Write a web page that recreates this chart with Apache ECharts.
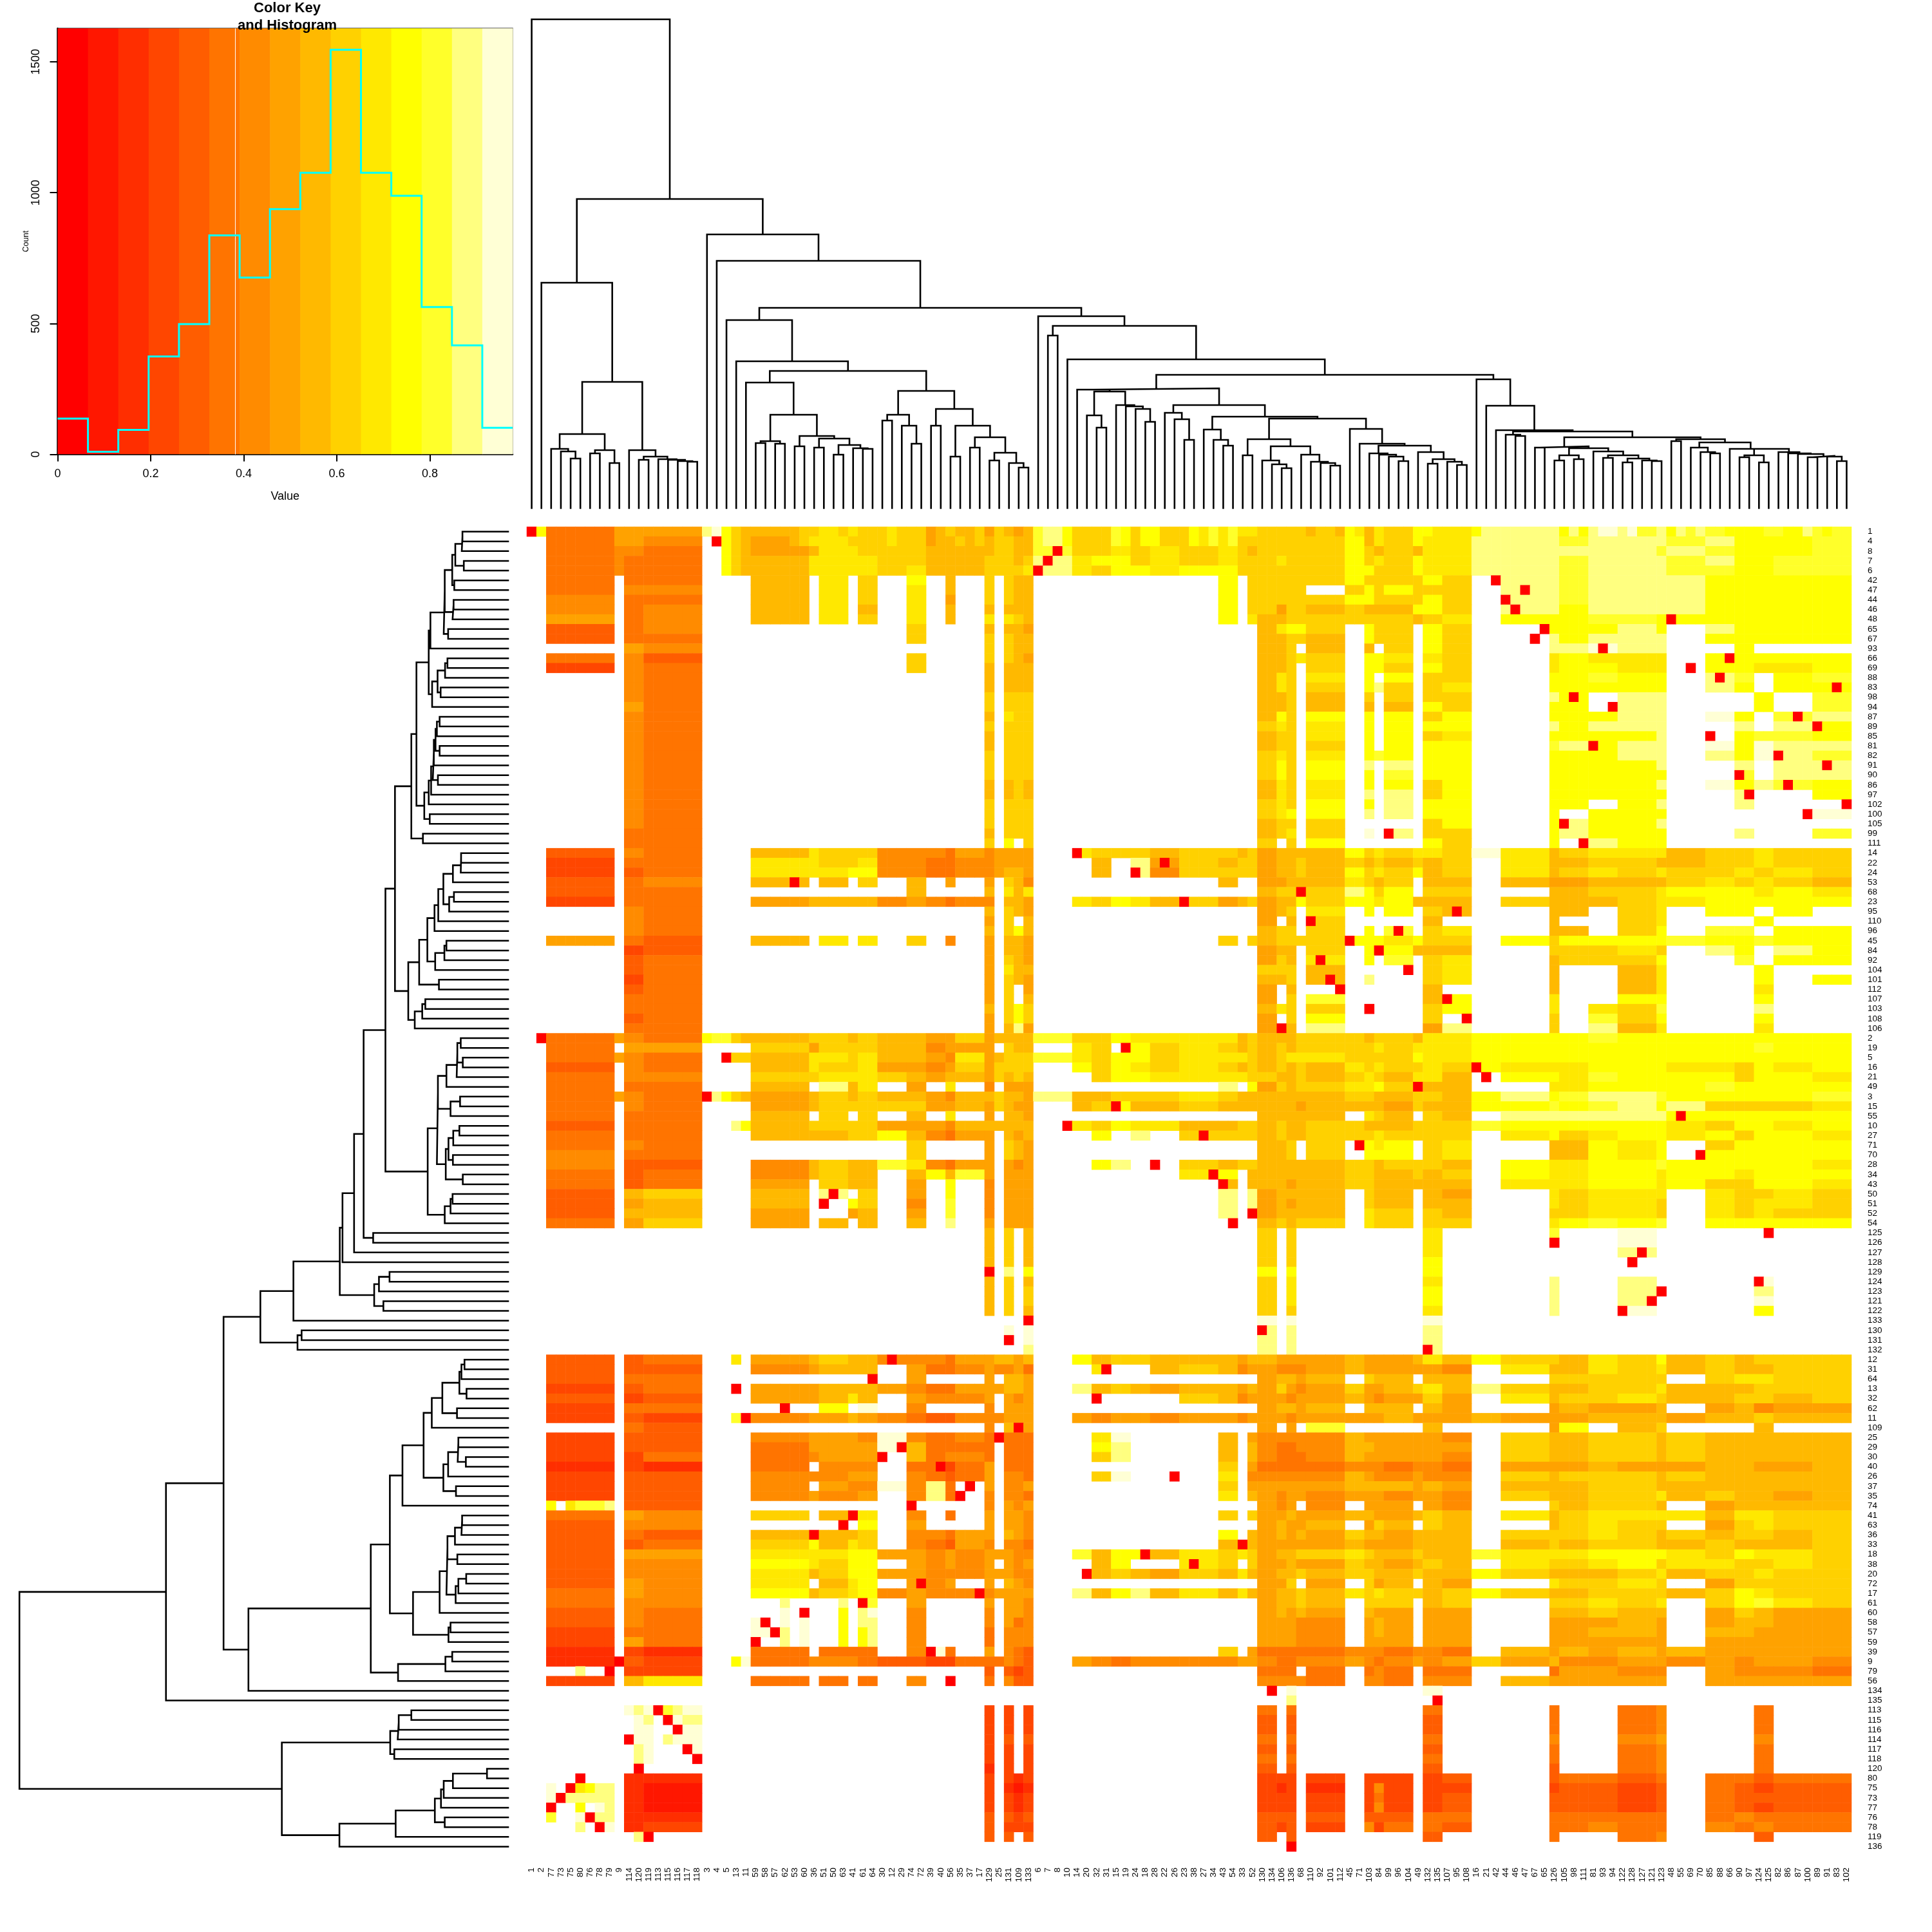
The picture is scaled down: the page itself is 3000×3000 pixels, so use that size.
<!DOCTYPE html>
<html><head><meta charset="utf-8">
<script src="https://cdn.jsdelivr.net/npm/echarts@6/dist/echarts.min.js"></script>
<style>html,body{margin:0;padding:0;background:#fff}#c{width:3000px;height:3000px}</style></head>
<body><div id="c"></div>
<script>
const colLabels=[1,2,77,73,75,80,76,78,79,9,114,120,119,113,115,116,117,118,3,4,5,13,11,59,58,57,62,53,60,36,51,50,63,41,61,64,30,12,29,74,72,39,40,56,35,37,17,129,25,131,109,133,6,7,8,10,14,20,32,31,15,19,24,18,28,22,26,23,38,27,34,43,54,33,52,130,134,106,136,68,110,92,101,112,45,71,103,84,99,96,104,49,132,135,107,95,108,16,21,42,44,46,47,67,65,126,105,98,111,81,93,94,122,128,127,121,123,48,55,69,70,85,88,66,90,97,124,125,82,86,87,100,89,91,83,102];
const rowLabels=[1,4,8,7,6,42,47,44,46,48,65,67,93,66,69,88,83,98,94,87,89,85,81,82,91,90,86,97,102,100,105,99,111,14,22,24,53,68,23,95,110,96,45,84,92,104,101,112,107,103,108,106,2,19,5,16,21,49,3,15,55,10,27,71,70,28,34,43,50,51,52,54,125,126,127,128,129,124,123,121,122,133,130,131,132,12,31,64,13,32,62,11,109,25,29,30,40,26,37,35,74,41,63,36,33,18,38,20,72,17,61,60,58,57,59,39,9,79,56,134,135,113,115,116,114,117,118,120,80,75,73,77,76,78,119,136];
const heatColors=['#FF0000','#FF1700','#FF2E00','#FF4600','#FF5D00','#FF7400','#FF8B00','#FFA200','#FFB900','#FFD100','#FFE800','#FFFF00','#FFFF2A','#FFFF80','#FFFFD5'];
const histCounts=[137,10,94,374,498,837,676,937,1076,1546,1076,988,563,417,102];
const keyMax=0.978, keyVline=0.382;
// top dendrogram: [height,left,right], 0 = leaf
const tA=[350,0,[196,[115,[92,0,[88,0,[77,0,0]]],[90,[85,0,0],[70,0,0]]],[90,0,[80,[75,0,0],[76,0,[75,0,[73,0,[72,0,0]]]]]]]];
const tB1=[195,0,[145,[104,[101,0,0],[100,0,0]],[112,[96,0,0],[108,[94,0,0],[98,[83,0,0],[93,0,[92,0,0]]]]]]];
const tB2=[182,[145,[136,0,0],[128,0,[100,0,0]]],[154,[128,0,0],[128,[80,0,0],[110,[94,0,0],[86,[74,0,0],[70,0,[63,0,0]]]]]]];
const tC1=[184,0,[181,[144,0,[125,0,0]],[160,0,[158,0,[154,0,[134,0,0]]]]]];
const tC2=[148,0,[138,0,[106,0,0]]];
const tC3=[122,0,[106,0,[97,0,0]]];
const tC4=[107,[82,0,0],[96,[74,0,[68,0,[62,0,0]]],[83,0,[72,0,[70,0,[66,0,0]]]]]];
const tC5=[123,0,[100,0,[97,[85,0,[83,0,[80,0,[73,0,0]]]],[87,0,[76,[69,0,0],[72,0,[67,0,0]]]]]]];
const tC=[186,tC1,[160,tC2,[142,tC3,[139,tC4,tC5]]]];
const tD1=[114,0,[112,0,0]];
const tD2=[96,[94,0,0],[93,[82,[74,0,0],[76,0,0]],[88,0,[82,[78,0,0],[77,[71,0,0],[74,0,[73,0,0]]]]]]];
const tD3tail=[87,0,[85,0,[84,0,[81,[79,0,0],[80,0,[73,0,0]]]]]];
const tD3=[107,[104,0,0],[102,[94,0,[87,0,[85,0,0]]],[92,0,[92,[82,[79,0,0],[71,0,0]],tD3tail]]]];
const tD=[200,0,[159,0,[121,0,[119,tD1,[110,tD2,tD3]]]]];
const tE=[298,0,[283,[268,0,0],[231,0,[207,tC,tD]]]];
const topTree=[759,0,[480,tA,[425,0,[384,0,[311,[292,0,[228,0,[213,tB1,tB2]]],tE]]]]];
// left dendrogram
const n1=[228,[189,[186,[164,[155,[136,[134,0,0],0],[130,0,0]],[158,0,0]],[163,[160,0,0],0]],[176,0,0]],0];
const n2=[223,[207,[185,[178,0,0],0],[198,0,0]],0];
const n4=[233,[226,[221,[218,[213,[209,[201,0,0],0],[201,0,0]],0],[206,0,0]],0],0];
const n7=[284,[269,[233,n1,n2],[246,n4,[230,0,0]]],[250,0,0]];
const n8=[216,[205,[190,[162,[139,[138,0,0],0],0],[173,[159,0,0],0]],0],0];
const n9=[214,[187,[181,0,0],0],0];
const n13=[293,[261,[237,n8,n9],[203,0,0]],[274,[252,[243,0,0],0],0]];
const n15=[181,[151,[149,[139,0,0],[133,0,0]],0],0];
const n16=[169,[141,0,0],0];
const n18=[175,[161,[143,0,0],0],[162,0,0]];
const n22=[236,[209,[206,n15,n16],[183,n18,[133,0,0]]],[186,[169,[163,0,0],0],0]];
const n23=[360,[332,n7,n13],n22];
const nD=[494,[486,[452,[424,n23,[396,0,0]],0],0],[393,[379,[348,0,0],0],[366,0,0]]];
const nF=[727,[630,nD,0],[618,[606,0,0],0]];
const h1=[248,[224,[193,[143,[137,[128,0,0],0],[122,0,0]],[150,0,0]],0],[190,[176,[148,[146,0,0],[124,0,0]],0],[153,0,0]]];
const h2=[279,[201,[181,[178,[156,[137,[135,0,0],0],0],[149,0,0]],[154,[146,[123,0,0],0],0]],0],[175,[169,0,0],0]];
const h3=[323,[184,[164,0,0],0],0];
const nH=[762,[403,[347,[310,h1,0],h2],h3],0];
const nJ=[664,[346,[324,[321,[284,0,0],0],0],[334,0,0]],[495,[330,[215,[197,[189,[162,[62,0,0],0],0],0],[186,0,0]],0],0]];
const leftTree=[1434,[1004,[835,nF,nH],0],nJ];
// first column index of each column block; a block runs to the next start
const blockStarts=[0,2,9,10,12,18,23,29,30,33,34,36,39,41,43,44,47,48,49,50,51,52,56,58,60,62,64,67,71,73,74,75,77,78,79,80,84,86,87,88,91,92,94,97,100,105,106,109,112,116,117,121,124,126,128,132,136];
// codes: 0..e = colour level, . = no value; one code per column block
const cellRows=[
"b5777b 89aa999888 79878 d99cbaaa9a 99999b8a9baa dddcdddccbbbc",
".5776b 79aa999888 89988 d99cb99a99 99999b8a9baa dddcdddcdbbbc",
".5665b 78aa999888 89988 c99a9a9a98 99999b9898aa ddddddcdcbbbc",
".5655b 8aaaa99888 99989 dabb9a9a99 9a999b9a9baa dddcdddcdbbcc",
".5655b 8aaaa9a888 9999a da9bbabb99 99999bb99baa dddcdddccbbcc",
".5.55. 8.a.9.b.8. 9.988 .......b.9 99999b9999b9 .ddcddddbbbbb",
".5.66. 8.a.9.a.8. 9.988 .......b.9 9999.9b9b999 .ddcddddbbbbb",
".6.55. 8.a.9.a.7. 9.988 .......b.9 99999bb999b9 .ddcddddbbbbb",
".6.56. 8.a.8.a.8. 8.888 .......b.9 979989888bb9 .ddbddddbbbbb",
".7.56. 8.a.9.a.8. a.a98 .......b.a 88999999989a .bbbccbbbbbbb",
".4.56. ......9... 8.887 .......... 8abb9.b99.b9 ..bbbdb.dbbbb",
".4.55. ......9... 9.988 .......... 88998.b99.b9 ..dbddd.bbbbb",
"...76. .......... 9.988 .......... 889.8.8.9.b9 ..ddedd..b...",
".5.64. ......9... 9.987 .......... 889a9.bba.a9 ..abaaa.bbbbb",
".3.65. ......9... 8.888 .......... 889.9.bb9.b9 ..abbaa.bbaab",
"...65. .......... 8.888 .......... 8a9.a.b.b.99 ..bbcbb.dc.bc",
"...65. .......... 8.888 .......... 8a9.9.bd9.9a ..bbbbb.db.bb",
"...65. .......... 9.999 .......... 889.8.9.9.99 ..db.dd...b.c",
"...75. .......... 9.999 .......... 889.8.8.8.b9 ..bb.dd...b.c",
"...65. .......... 8.a99 .......... 8b9.b.b.b.9b ..bbbdd.eb.cd",
"...65. .......... 9.999 .......... 9a9.a.b.b.bb ..dbddd..d.db",
"...65. .......... 8.999 .......... 899.a.b.b.9a ..bbbbd..bccb",
"...65. .......... 8.999 .......... 899.9.b.b.bb ..cdbdd.ebedd",
"...65. .......... 9.999 .......... 9a9.a.bcb.bb ..bbbdd.dbedc",
"...65. .......... 9.999 .......... 9b9.b.d.d.bb ..bbbbd..d.dd",
"...65. .......... 9.999 .......... 9b9.b.b.c.bb ..bbbbb..c.dd",
"...65. .......... 8.898 .......... 8a9.a.b.b.9b ..bbbbd.ebdcb",
"...65. .......... 8.898 .......... 8a9.a.d.d.9b ..bbbbb..d..b",
"...65. .......... 9.999 .......... 9a9.b.b.d.bb ..bb.bd..d...",
"...65. .......... 9.999 .......... 9ab.b.d.d.bb ..b.bbb.....e",
"...65. .......... 9.999 .......... 899.9.....9b ..bdbbd......",
"...55. .......... 8.999 .......... 89a.9.e.d.99 ..bdbbb..d..c",
"...55. .......... 9.b.9 .......... 9.9.b.....b9 ..b.dbb......",
".4.65. 8a99966657 67777 .a99989989 78888b9a9aa9 ea89aaa899a99",
".3.55. aa99a66556 67777 ..8.d79899 788989898989 .a88998899a99",
".3.45. aaabb66556 67887 ..8.d69999 78898b9a9b89 .a89a9a99a9a9",
".4.56. 8.8.9.8.7. 7.986 .......8.. 77888a989.88 .8778889a9a98",
".4.55. ......8... 8.a8a .......... 89909db9b.99 ..8899abbbaba",
".3.55. 7888867656 6.887 .a9ba89789 788b9bbab888 .98889aabbbbb",
"...65. .......... 8.987 .......... 789.a.b.b.98 ..88.9a.bb.b.",
"...65. .......... 7.9.8 .......... 7.8.9.....8. ..8..9a...b..",
"...65. .......... 8.9b8 .......... 899.9.b.c.9a ..88.9b.cc.bb",
".7.54. 8.a.a.9.6. 7.887 .......9.9 89999bbbab99 .b9bbbbcbbcbb",
"...34. .......... 7.887 .......... 788.9.b0b888 ..999a9.db.db",
"...45. .......... 7.987 .......... 798.a.b.c.9a ..8999b..c.bb",
"...45. .......... 7.a88 .......... 999.8.....9a ..8..8a...b..",
"...35. .......... 7.987 .......... 889.8.d...9a ..8..8a...b.b",
"...45. .......... 7.9.7 .......... 7.8.......8. ..8..8a...a..",
"...55. .......... 7.9.8 .......... 7.9.c.....8b ..a..bb...b..",
"...55. .......... 8.9b9 .......... 8a9.9.d...9b ..a.a9c...d..",
"...45. .......... 7.9b9 .......... 7.9.b.....9. ..9.c9b...b..",
"...55. .......... 7.8d7 .......... 708.d.....7d ..9.d8a...a..",
".5765c 8998988779 78888 c99baaaa89 8889998998aa bbbbcbbbbbbbb",
".5.77. 9799988677 7.988 .a9.b9a989 8989999a9aaa bbbbbbbbbbcbb",
".57659 8aa9a8876a 78999 ca9bb9aaa9 89aaa9999baa bbbbbbbbbbbbb",
".4.65. 8a99a77679 79999 .b9ba9a989 89898a9a99a9 baaabbbaa9bab",
".5.66. 99aaa98788 79898 ..9bbaaaa9 988989a98aa8 .bbacbbbb9bba",
".5.55. 8.d8a.7.a. 6.777 .......d.b 79899aab9088 ..aabbbbcbbbb",
".5765b 7898988768 89887 d88999a988 888889988998 bdbcddcbbbbbc",
".5.65. 7899999778 79877 .89b889888 888788887988 bbcbcdbd9999a",
".5.55. 8.9.9.8.a. 7.887 .......... 88888.a98.98 .ddddddbbbbbb",
".4.55b 8999977768 88888 .a9baa8899 898899888999 cbbbbbba9bbab",
".5.55. 88899b8657 7.878 ..b.d.9999 8988999a9999 .ab9abbab9bba",
".5.65. ......9... 7.987 .......... 889.9.bab.9a ..88bab.9bbbb",
".6.55. ......9... 7.987 .......... 889.9.bbb.9a ..88bab.bbbbb",
".6.44. 68988ca657 7.767 ..bd..9899 888889989998 .baabbcbbbbba",
".5.45. 68988.8b8c 7.777 ......ab.8 888889988989 .baabbabbabbb",
".5.45. 7.988.7.b. 6.777 .......8.8 887889988888 .aaabbab99bba",
".4.89. 8.d.9.7.b. 6.777 .......d.d 78888.988.87 ..a9aaa.a99a9",
".4.78. 8..b9.6.c. 6.777 .......d.d 78788.988.88 ..a9aa9.a9aa9",
".4.88. 7..78.7.c. 6.777 .......d.. 78888.a99.98 ..99aa9.a9a99",
".5.79. 7.8.8.8.d. 7.777 .......... 89899.a99.99 ..abcbc.bbbbb",
"...... .......... 8.9.8 .......... 9.9.......a. ..c..e.......",
"...... .......... 8.9.8 .......... 9.9.......a. ..0..e.......",
"...... .......... 8.9.8 .......... 9.9.......a. .....d.......",
"...... .......... 8.9.8 .......... 9.9.......b. .............",
"...... .......... 8.d.b .......... b.b.......b. .............",
"...... .......... 8.9.8 .......... 9.a.......a. ..d..d....e..",
"...... .......... 8.9.9 .......... 9.a.......b. ..d..d....d..",
"...... .......... 8.9.9 .......... 9.a.......b. ..d..d....e..",
"...... .......... 8.9.8 .......... 9.9.......a. ..d..e....b..",
"...... .......... ....0 .......... e.e.......e. .............",
"...... .......... ..e.e .......... d.d.......d. .............",
"...... .......... ..0.e .......... d.d.......d. .............",
"...... .......... ....d .......... d.d.......d. .............",
".4.45a 7898866657 78878 .b89988878 8777787778a8 b998a9b898999",
".4.44. 67888.7556 76675 ..a..89867 766678777776 .a88a9a898899",
".4.55. ......7... 7.887 .......... 78878.988.88 ..99999.9aa99",
".3.45. 7788876557 77887 .d89878878 7976797789a8 d98899a888999",
".4.34. 778a8.7666 7.767 ......9867 776778767797 .a899a9889989",
".3.55. ..b.e.6... 6.777 .......... 78878.888.87 ..78778.78677",
".3.43c 6778765446 66777 .767767767 776777778777 8777888788988",
"...54. .......... 6.8.7 .......... 7.7.c.....8. ..7b.89...8..",
".3.44. 67776e6556 5.555 ..ae...8.7 666668777776 .988998988888",
".3.44. 57777e8555 5.555 ..bd...8.8 655668877777 .988998988888",
".3.35. 56777.8566 5.555 ..9d...8.8 655568777776 .988998988888",
".2.32. 5.666.5535 7.555 .......9.7 555556665665 .777877788778",
".3.44. 66677.6545 7.665 ..9e...a.6 666668766766 .989998988888",
".3.44. 6.766e6d5. 7.667 .......9.7 777778888787 .888998888888",
".3.44. 67667.6d5. 6.665 .......a.8 767767776776 .98899a898878",
".b.44. .......... 6.767 .......... 767.6.777.76 ..98998.78888",
".5.76. 9.8.a.6.5. 7.776 .......9.9 778778877898 .a89aaaa8aa99",
".4.66. ....b.7... 7.776 .......... 78778.798.98 ..89a99.79a99",
".4.54. 8.889.6657 7.876 .......b.8 787879887888 .999a98989989",
".4.45. 9b8a9.6547 6.665 .......8.8 777778777888 .898998898889",
".4.77. aaabb77676 77766 .c8bb8a9a9 78899a988988 caaabbba9baa9",
".4.66. ba9bb.7676 7.767 ..8b..a9.9 778779887898 .a99ab9aa99a9",
".4.66. a89bb77666 77766 ..898798a8 788989988988 b98889a899a99",
".4.76. a.8ab.767. 7.876 .......... 779.7.978.87 ..a99a9.79999",
".5.76. b89ab67666 67777 .d8bd8a8a8 78898a9a9989 b98899989ba99",
".5.66. ....c.7... 7.776 .......... 78898.999.89 ..99a9a.9bca9",
".4.65. ....d.6... 6.776 .......... 78787.877.77 ..88988.79877",
".4.65. ....d.6... 6.756 .......... 77766.787.77 ..77787.78877",
".3.55. ....c.6... 5.666 .......... 77766.787.77 ..77887.88777",
".3.75. ....d.6... 5.666 .......... 77766.777.77 ..77777.77777",
".2.32. 5.555.6e5. 7.654 .......9.7 555556665665 .878787877777",
".2.43b 5666544335 55654 .765666677 655667656767 9786677676776",
"...33. .......... 4.434 .......... 555.5.565.55 ..57766.76665",
".3.8a. 5.5.5.6... 5.644 .......... 66665.665.66 .877777.77777",
"...... .......... ..... .......... ..e.......e. .............",
"...... .......... ..... .......... ..d......... .............",
"...ee. .......... 3.3.3 .......... 5.5.......5. ..5..56...5..",
"...ed. .......... 3.3.3 .......... 4.4.......4. ..5..56...5..",
"...ee. .......... 3.3.3 .......... 4.4.......4. ..5..56...5..",
"...ee. .......... 3.4.4 .......... 5.5.......5. ..6..67...6..",
"...de. .......... 3.3.3 .......... 4.4.......4. ..5..56...5..",
"...d.. .......... 3.3.3 .......... 5.5.......5. ..5..56...5..",
"...... .......... 2.3.3 .......... 4.4.......4. ..4..56...5..",
"...22. .......... 3.323 .......... 333.3.333.34 ..45545.55455",
".d.21. .......... 3.212 .......... 323.2.363.33 ..34434.54344",
".e.21. .......... 3.323 .......... 333.3.353.34 ..44434.54444",
".e.21. .......... 3.323 .......... 333.3.363.34 ..44434.54344",
".d.22. .......... 4.434 .......... 444.4.444.55 ..55555.56555",
".e.23. .......... 4.333 .......... 434.3.635.54 ..55655.65655",
"...d.. .......... 4.4.4 .......... 4.4.......4. ..5..56...4..",
"...... .......... ..... .......... ............ .............",
];
// single-cell readings that differ from their block: [row index, first column index, codes]
const cellEdits=[
[0,18,"deb98"],[1,18,".0b98"],[2,18,"..b98"],[3,18,"..b98"],[4,18,"..b98"],
[52,18,"bcc98"],[54,18,"..099"],[58,18,"0db98"],[61,18,"...db"],[85,18,"...a."],[91,18,"...c0"],[116,18,"...be"],
[0,23,"8888899aa9a999a999789889"],[0,52,"cddb9999cb9bb999bacacaa"],
[0,75,"999998998ba8a999bbaaaabddddddddbdbdeedeccdbdcdccbbbbccbbdcbcc"],
[1,23,"777789aaaa9999a999788989"],[1,52,"cddb9999cb9bb999bacac99"],
[100,2,"b.acccd"],[117,2,"...d..0"],
[128,2,"...0..."],[129,2,"e.0abdd"],[130,2,"e0ddddd"],[131,2,"0..b.ed"],[132,2,"c..e0dd"],[133,2,"...d.0e"],
[121,10,"ede0cdee"],[122,10,".ed.0edd"],[123,10,".ee..0ee"],[124,10,"0ee.deee"],[125,10,".de...0e"],[126,10,".de....0"],[127,10,".0......"],[134,10,".d0....."],
[110,23,"...d.....d.0c"],[111,23,"...e.0...b.de"],[112,23,"e0.e.e...b.dd"],[113,23,"ee0d.e...b.bd"],[114,23,"0..d.e...b.bd"]
];

const grid=cellRows.map(s=>{
  const codes=s.replace(/ /g,''),row=new Array(136).fill('.');
  for(let b=0;b<blockStarts.length-1;b++){
    for(let k=blockStarts[b];k<blockStarts[b+1];k++) row[k]=codes[b]||'.';
  }
  return row;
});
cellEdits.forEach(([r,k,s])=>{for(let i=0;i<s.length;i++) grid[r][k+i]=s[i];});
const heatData=[];
grid.forEach((row,r)=>row.forEach((ch,k)=>{
  if(colLabels[k]===rowLabels[r]) heatData.push([k,r,0]);
  else if(ch!=='.'&&ch!=='0') heatData.push([k,r,parseInt(ch,16)]);
}));
function treeSegments(tree,horizontal){
  const out=[];let leaf=0;
  const pt=(p,h)=>horizontal?[h,p]:[p,h];
  (function walk(n){
    if(n===0){return {p:(leaf++)+0.5,h:0};}
    const l=walk(n[1]),r=walk(n[2]),h=n[0];
    out.push(pt(l.p,l.h),pt(l.p,h),pt(r.p,h),pt(r.p,r.h),['-','-']);
    return {p:(l.p+r.p)/2,h};
  })(tree);
  return out;
}
const keyBands=heatColors.map((c,i)=>[i*keyMax/15,(i+1)*keyMax/15,i]);
const histLine=[];
histCounts.forEach((v,i)=>{histLine.push([i*keyMax/15,v],[(i+1)*keyMax/15,v]);});
const FONT='"Liberation Sans",Arial,sans-serif';
const hidden={show:false};
const dendroLine={color:'#000',width:2.6,join:'miter',cap:'square'};
const option={
  animation:false,backgroundColor:'#fff',
  title:{text:'Color Key\nand Histogram',left:441,top:-6,textAlign:'center',
    textStyle:{fontFamily:FONT,fontWeight:'bold',fontSize:22,lineHeight:27,color:'#000'}},
  grid:[
    {left:89.5,top:44,width:706.5,height:661.6,show:true,borderColor:'#333',borderWidth:1.5,backgroundColor:'transparent'},
    {left:818,top:0,width:2057,height:789},
    {left:0,top:818,width:789,height:2057},
    {left:818,top:818,width:2057,height:2057}
  ],
  xAxis:[
    {gridIndex:0,type:'value',min:0,max:keyMax,splitLine:hidden,
      axisLine:{lineStyle:{color:'#000',width:2.5}},
      axisTick:{length:11,lineStyle:{color:'#000',width:2},customValues:[0,0.2,0.4,0.6,0.8]},
      axisLabel:{margin:21,fontFamily:FONT,fontSize:18,color:'#000',customValues:[0,0.2,0.4,0.6,0.8]},
      name:'Value',nameLocation:'middle',nameGap:56,nameTextStyle:{fontFamily:FONT,fontSize:18,color:'#000'}},
    {gridIndex:1,type:'value',min:0,max:136,show:false},
    {gridIndex:2,type:'value',min:0,max:1491,inverse:true,show:false},
    {gridIndex:3,type:'category',data:colLabels.map(String),position:'bottom',splitLine:hidden,splitArea:hidden,
      axisLine:hidden,axisTick:hidden,
      axisLabel:{interval:0,rotate:90,margin:25,fontFamily:FONT,fontSize:13.5,color:'#000'}}
  ],
  yAxis:[
    {gridIndex:0,type:'value',min:0,max:1628,splitLine:hidden,
      axisLine:{show:true,lineStyle:{color:'#000',width:2.5}},
      axisTick:{show:true,length:12,lineStyle:{color:'#000',width:2},customValues:[0,500,1000,1500]},
      axisLabel:{rotate:90,margin:24,fontFamily:FONT,fontSize:18,color:'#000',customValues:[0,500,1000,1500],formatter:v=>String(v)},
      name:'Count',nameLocation:'middle',nameGap:40,nameRotate:90,nameTextStyle:{fontFamily:FONT,fontSize:12.5,color:'#000'}},
    {gridIndex:1,type:'value',min:0,max:789,show:false},
    {gridIndex:2,type:'value',min:0,max:136,inverse:true,show:false},
    {gridIndex:3,type:'category',data:rowLabels.map(String),inverse:true,position:'right',splitLine:hidden,splitArea:hidden,
      axisLine:hidden,axisTick:hidden,
      axisLabel:{interval:0,margin:25,fontFamily:FONT,fontSize:13.5,color:'#000'}}
  ],
  visualMap:{show:false,type:'piecewise',seriesIndex:4,dimension:2,
    pieces:heatColors.map((c,i)=>({value:i,color:c}))},
  series:[
    {type:'custom',xAxisIndex:0,yAxisIndex:0,silent:true,clip:true,z:1,data:keyBands,
      encode:{x:[0,1]},
      renderItem(params,api){
        const a=api.coord([api.value(0),1628]),b=api.coord([api.value(1),0]);
        return {type:'rect',shape:{x:a[0],y:a[1],width:b[0]-a[0]+0.6,height:b[1]-a[1]},
          style:{fill:heatColors[api.value(2)]}};
      }},
    {type:'line',xAxisIndex:0,yAxisIndex:0,silent:true,symbol:'none',z:3,
      data:histLine,lineStyle:{color:'#00FFFF',width:3,join:'miter'}},
    {type:'line',xAxisIndex:0,yAxisIndex:0,silent:true,symbol:'none',z:2,
      data:[[keyVline,0],[keyVline,1628]],lineStyle:{color:'#fff',width:1}},
    {type:'line',xAxisIndex:1,yAxisIndex:1,silent:true,symbol:'none',clip:false,connectNulls:false,
      data:treeSegments(topTree,false),lineStyle:dendroLine},
    {type:'heatmap',xAxisIndex:3,yAxisIndex:3,silent:true,data:heatData,progressive:0,itemStyle:{borderWidth:0}},
    {type:'line',xAxisIndex:2,yAxisIndex:2,silent:true,symbol:'none',clip:false,connectNulls:false,
      data:treeSegments(leftTree,true),lineStyle:dendroLine}
  ]
};
echarts.init(document.getElementById('c'),null,{renderer:'canvas',width:3000,height:3000}).setOption(option);
</script>
</body></html>
